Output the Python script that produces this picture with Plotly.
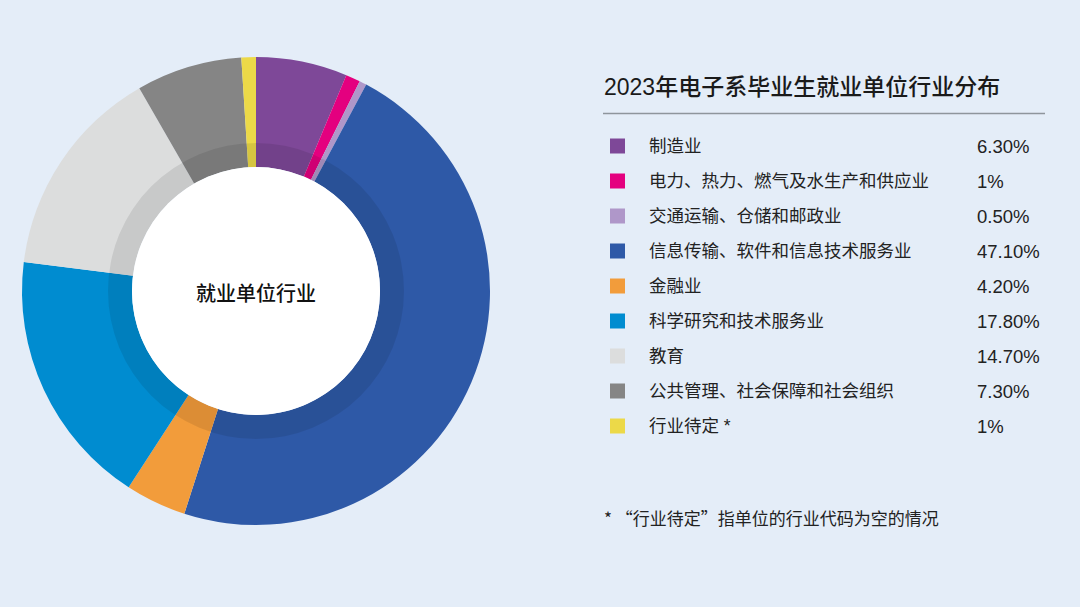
import plotly.graph_objects as go

categories = ["制造业", "电力、热力、燃气及水生产和供应业", "交通运输、仓储和邮政业",
              "信息传输、软件和信息技术服务业", "金融业", "科学研究和技术服务业",
              "教育", "公共管理、社会保障和社会组织", "行业待定 *"]
values = [6.3, 1, 0.5, 47.1, 4.2, 17.8, 14.7, 7.3, 1]
value_labels = ["6.30%", "1%", "0.50%", "47.10%", "4.20%", "17.80%", "14.70%", "7.30%", "1%"]
colors = ["#7E4898", "#E4007F", "#AF97C9", "#2E59A7", "#F29C3B", "#008CD0",
          "#DCDDDD", "#858585", "#ECD948"]
title_text = "2023年电子系毕业生就业单位行业分布"
center_text = "就业单位行业"
footnote = "* “行业待定”指单位的行业代码为空的情况"

W, H = 1080, 607
BG = "#E4EDF8"
FONT = "Liberation Sans, Noto Sans CJK SC, sans-serif"
CJK = "Noto Sans CJK SC, Liberation Sans, sans-serif"
CX, CY = 256, 291
R_OUT, R_SHADE, R_HOLE = 234, 148, 124


def dom(r):
    yc = H - CY
    return dict(x=[(CX - r) / W, (CX + r) / W], y=[(yc - r) / H, (yc + r) / H])


fig = go.Figure()
fig.add_trace(go.Pie(
    values=values, labels=categories, marker=dict(colors=colors, line=dict(width=0)),
    sort=False, direction="clockwise", rotation=0, hole=R_HOLE / R_OUT,
    textinfo="none", hoverinfo="label+percent", domain=dom(R_OUT), showlegend=False,
))
fig.add_trace(go.Pie(
    values=[1], labels=["shade"], marker=dict(colors=["rgba(0,0,0,0.09)"], line=dict(width=0)),
    hole=R_HOLE / R_SHADE, textinfo="none", hoverinfo="skip", domain=dom(R_SHADE), showlegend=False,
))
fig.add_trace(go.Pie(
    values=[1], labels=["center"], marker=dict(colors=["#FFFFFF"], line=dict(width=0)),
    textinfo="none", hoverinfo="skip", domain=dom(R_HOLE), showlegend=False,
))

# legend markers as a scatter on a pixel-scaled hidden axis
row_y = [146 + 35 * i for i in range(len(categories))]
fig.add_trace(go.Scatter(
    x=[617.5] * len(categories), y=row_y, mode="markers",
    marker=dict(symbol="square", size=15, color=colors, line=dict(width=0)),
    hoverinfo="skip", showlegend=False, xaxis="x", yaxis="y",
))

ann = []
ann.append(dict(x=CX, y=CY + 1, xref="x", yref="y", text=center_text, showarrow=False,
                font=dict(size=20, color="#111111", family=CJK, weight=500),
                xanchor="center", yanchor="middle"))
ann.append(dict(x=602, y=87, xref="x", yref="y", text=title_text, showarrow=False,
                font=dict(size=23, color="#1A1A1A", family=FONT, weight=500),
                xanchor="left", yanchor="middle"))
for i, (c, v) in enumerate(zip(categories, value_labels)):
    ann.append(dict(x=647, y=row_y[i], xref="x", yref="y", text=c, showarrow=False,
                    font=dict(size=17.5, color="#222222", family=FONT), xanchor="left", yanchor="middle"))
    ann.append(dict(x=975, y=row_y[i], xref="x", yref="y", text=v, showarrow=False,
                    font=dict(size=18.5, color="#222222", family=FONT), xanchor="left", yanchor="middle"))
ann.append(dict(x=602, y=517, xref="x", yref="y", text=footnote, showarrow=False,
                font=dict(size=17, color="#222222", family=CJK), xanchor="left", yanchor="middle"))

fig.update_layout(
    width=W, height=H, margin=dict(l=0, r=0, t=0, b=0),
    paper_bgcolor=BG, plot_bgcolor="rgba(0,0,0,0)",
    xaxis=dict(range=[0, W], visible=False, fixedrange=True, domain=[0, 1]),
    yaxis=dict(range=[H, 0], visible=False, fixedrange=True, domain=[0, 1]),
    annotations=ann,
    shapes=[dict(type="line", xref="x", yref="y", x0=603, x1=1045, y0=113.5, y1=113.5,
                 line=dict(color="#8E959C", width=1.5))],
    showlegend=False,
)
fig.write_html(
    "out.html",
    config={"displayModeBar": False},
    post_script="document.body.style.margin='0';document.body.style.padding='0';"
                "document.body.style.background='" + BG + "';",
)
